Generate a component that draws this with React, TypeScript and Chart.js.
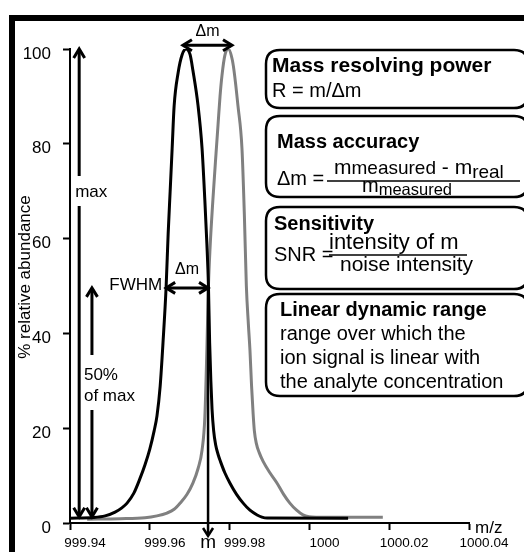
import React, { useEffect, useRef } from 'react';
import { Chart, registerables } from 'chart.js';

Chart.register(...registerables);

// ---- data ----
const xTickValues = [999.94, 999.96, 999.98, 1000, 1000.02, 1000.04];
const xTickLabels = ['999.94', '999.96', '999.98', '1000', '1000.02', '1000.04'];
const yTickValues = [0, 20, 40, 60, 80, 100];

const blackX = [999.94, 999.9458, 999.9488, 999.9513, 999.953, 999.9543, 999.956, 999.9575, 999.9588, 999.96, 999.9611, 999.9618, 999.9626, 999.9633, 999.9641, 999.9646, 999.9651, 999.9656, 999.9661, 999.9671, 999.9681, 999.9691, 999.9701, 999.9708, 999.9721, 999.9731, 999.9738, 999.9743, 999.9747, 999.975, 999.9753, 999.9756, 999.976, 999.9765, 999.9771, 999.9777, 999.9788, 999.9801, 999.9817, 999.9834, 999.9851, 999.9869, 999.9881, 999.9894, 1000.0097];
const blackY = [1.0, 1.15, 1.5, 2.3, 3.2, 4.2, 6.3, 9.3, 12.3, 15.6, 19.5, 22.6, 28.9, 37.9, 50, 61, 70, 79, 88, 95, 98.8, 100, 98.8, 95.5, 88, 79, 68, 59, 50, 38, 30, 24, 19.5, 16.5, 14.5, 13.0, 10.6, 8.4, 6.1, 4.2, 2.7, 1.7, 1.25, 1.05, 1.0];

const grayX = [999.9443, 999.9525, 999.9588, 999.9618, 999.9643, 999.9661, 999.9676, 999.9693, 999.9708, 999.9721, 999.9731, 999.9738, 999.9743, 999.9747, 999.9751, 999.9758, 999.9766, 999.9771, 999.9776, 999.9781, 999.9788, 999.9797, 999.9806, 999.9811, 999.9821, 999.9831, 999.9837, 999.9842, 999.9847, 999.9851, 999.9855, 999.9859, 999.9862, 999.9867, 999.9874, 999.9884, 999.9901, 999.9919, 999.9935, 999.9951, 999.9968, 999.9984, 999.9999, 1000.0017, 1000.0184];
const grayY = [0.8, 0.9, 1.1, 1.5, 2.1, 2.9, 4.2, 6.0, 8.4, 11.5, 15.4, 22.4, 36.5, 50, 58, 68, 78, 84, 90, 94.5, 98.6, 100, 98, 95.5, 88, 79, 65, 50, 42, 36.5, 29, 23, 19.5, 16.8, 14.9, 13.0, 10.6, 8.4, 6.1, 4.2, 2.7, 1.7, 1.3, 1.2, 1.2];

const yTitle = '% relative abundance';
const xUnit = 'm/z';

const FONT = '"Liberation Sans", Arial, sans-serif';

function chevron(ctx: CanvasRenderingContext2D, x: number, y: number, dx: number, dy: number, len = 9, half = 5.5) {
  const bx = x - dx * len, by = y - dy * len;
  const px = -dy, py = dx;
  ctx.beginPath();
  ctx.moveTo(bx + px * half, by + py * half);
  ctx.lineTo(x, y);
  ctx.lineTo(bx - px * half, by - py * half);
  ctx.stroke();
}

function seg(ctx: CanvasRenderingContext2D, x1: number, y1: number, x2: number, y2: number) {
  ctx.beginPath();
  ctx.moveTo(x1, y1);
  ctx.lineTo(x2, y2);
  ctx.stroke();
}

function roundBox(ctx: CanvasRenderingContext2D, x: number, y: number, w: number, h: number, r: number) {
  ctx.beginPath();
  ctx.moveTo(x + r, y);
  ctx.lineTo(x + w - r, y);
  ctx.quadraticCurveTo(x + w, y, x + w, y + r);
  ctx.lineTo(x + w, y + h - r);
  ctx.quadraticCurveTo(x + w, y + h, x + w - r, y + h);
  ctx.lineTo(x + r, y + h);
  ctx.quadraticCurveTo(x, y + h, x, y + h - r);
  ctx.lineTo(x, y + r);
  ctx.quadraticCurveTo(x, y, x + r, y);
  ctx.stroke();
}

type Run = { t: string; size: number; dy?: number; bold?: boolean };
function drawRuns(ctx: CanvasRenderingContext2D, runs: Run[], x: number, base: number) {
  let cx = x;
  ctx.textAlign = 'left';
  ctx.textBaseline = 'alphabetic';
  for (const r of runs) {
    ctx.font = `${r.bold ? 'bold ' : ''}${r.size}px ${FONT}`;
    ctx.fillText(r.t, cx, base + (r.dy || 0));
    cx += ctx.measureText(r.t).width;
  }
  return cx;
}

const annot = {
  id: 'annot',
  afterDraw(chart: any) {
    const ctx: CanvasRenderingContext2D = chart.ctx;
    const xs = chart.scales.x;
    const ys = chart.scales.y;
    const X = (v: number) => xs.getPixelForValue(v);
    const Y = (v: number) => ys.getPixelForValue(v);
    ctx.save();
    ctx.fillStyle = '#000';
    ctx.strokeStyle = '#000';
    ctx.lineCap = 'butt';
    ctx.lineJoin = 'miter';

    // frame
    ctx.fillRect(9, 15, 6, 552);
    ctx.fillRect(9, 15, 524, 6);

    // y title
    ctx.save();
    ctx.translate(25, 277);
    ctx.rotate(-Math.PI / 2);
    ctx.font = `17px ${FONT}`;
    ctx.textAlign = 'center';
    ctx.textBaseline = 'middle';
    ctx.fillText(yTitle, 0, 0);
    ctx.restore();

    // max arrow
    ctx.lineWidth = 3;
    const mx = X(999.9423);
    seg(ctx, mx, Y(100) + 1, mx, 176);
    seg(ctx, mx, 206, mx, Y(1.3) - 1);
    chevron(ctx, mx, Y(100), 0, -1);
    chevron(ctx, mx, Y(1.3), 0, 1);
    ctx.font = `17px ${FONT}`;
    ctx.textAlign = 'left';
    ctx.textBaseline = 'middle';
    ctx.fillText('max', mx - 4, 192);

    // 50% arrow
    const hx = X(999.9455);
    seg(ctx, hx, Y(49.6) + 1, hx, 355);
    seg(ctx, hx, 410, hx, Y(1.3) - 1);
    chevron(ctx, hx, Y(49.6), 0, -1);
    chevron(ctx, hx, Y(1.3), 0, 1);
    ctx.fillText('50%', hx - 8, 375);
    ctx.fillText('of max', hx - 8, 396);

    // FWHM arrow
    const fy = Y(49.6);
    const fx1 = X(999.9641), fx2 = X(999.9746);
    seg(ctx, fx1 + 1, fy, fx2 - 1, fy);
    chevron(ctx, fx1, fy, -1, 0);
    chevron(ctx, fx2, fy, 1, 0);
    ctx.textAlign = 'right';
    ctx.fillText('FWHM', fx1 - 4, fy - 3);
    ctx.textAlign = 'center';
    ctx.font = `16px ${FONT}`;
    ctx.fillText('\u0394m', (fx1 + fx2) / 2, fy - 18);

    // m vertical arrow
    ctx.lineWidth = 2.5;
    seg(ctx, fx2, fy, fx2, 535);
    chevron(ctx, fx2, 536, 0, 1, 8, 5);
    ctx.font = `19px ${FONT}`;
    ctx.textAlign = 'center';
    ctx.textBaseline = 'alphabetic';
    ctx.fillText('m', fx2, 548);

    // top delta m arrow
    ctx.lineWidth = 3;
    const ty = Y(100.8);
    const tx1 = X(999.9683), tx2 = X(999.9806);
    seg(ctx, tx1 + 1, ty, tx2 - 1, ty);
    chevron(ctx, tx1, ty, -1, 0);
    chevron(ctx, tx2, ty, 1, 0);
    ctx.font = `16px ${FONT}`;
    ctx.textAlign = 'center';
    ctx.textBaseline = 'middle';
    ctx.fillText('\u0394m', (tx1 + tx2) / 2, 32);

    // m/z
    ctx.font = `17px ${FONT}`;
    ctx.textAlign = 'left';
    ctx.fillText(xUnit, 475, 528);

    // boxes
    ctx.lineWidth = 2.5;
    roundBox(ctx, 266, 50, 262, 58, 14);
    roundBox(ctx, 266, 116, 262, 81, 14);
    roundBox(ctx, 266, 207, 262, 82, 14);
    roundBox(ctx, 266, 294, 262, 102, 14);

    // box 1
    drawRuns(ctx, [{ t: 'Mass resolving power', size: 21, bold: true }], 272, 72);
    drawRuns(ctx, [{ t: 'R = m/\u0394m', size: 20 }], 272, 97);

    // box 2
    drawRuns(ctx, [{ t: 'Mass accuracy', size: 20, bold: true }], 277, 148);
    drawRuns(ctx, [{ t: '\u0394m =', size: 20 }], 277, 185);
    drawRuns(ctx, [
      { t: 'm', size: 21 }, { t: 'measured', size: 19 }, { t: ' - ', size: 21 },
      { t: 'm', size: 21 }, { t: 'real', size: 19, dy: 4 },
    ], 334, 174);
    ctx.lineWidth = 1.5;
    seg(ctx, 327, 181, 520, 181);
    drawRuns(ctx, [{ t: 'm', size: 20 }, { t: 'measured', size: 16.5, dy: 3 }], 362, 192);

    // box 3
    drawRuns(ctx, [{ t: 'Sensitivity', size: 20, bold: true }], 274, 230);
    drawRuns(ctx, [{ t: 'SNR =', size: 20 }], 274, 261);
    drawRuns(ctx, [{ t: 'intensity of m', size: 22 }], 329, 249);
    seg(ctx, 329, 255, 467, 255);
    drawRuns(ctx, [{ t: 'noise intensity', size: 21 }], 340, 271);

    // box 4
    drawRuns(ctx, [{ t: 'Linear dynamic range', size: 20, bold: true }], 280, 316);
    drawRuns(ctx, [{ t: 'range over which the', size: 20 }], 280, 340);
    drawRuns(ctx, [{ t: 'ion signal is linear with', size: 20 }], 280, 364);
    drawRuns(ctx, [{ t: 'the analyte concentration', size: 20 }], 280, 388);

    ctx.restore();
  },
};

export default function App() {
  const ref = useRef<HTMLCanvasElement>(null);
  useEffect(() => {
    if (!ref.current) return;
    const chart = new Chart(ref.current, {
      type: 'line',
      data: {
        datasets: [
          {
            data: blackX.map((x, i) => ({ x, y: blackY[i] })),
            borderColor: '#000000',
            borderWidth: 3,
            pointRadius: 0,
            cubicInterpolationMode: 'monotone',
            fill: false,
          },
          {
            data: grayX.map((x, i) => ({ x, y: grayY[i] })),
            borderColor: '#808080',
            borderWidth: 3,
            pointRadius: 0,
            cubicInterpolationMode: 'monotone',
            fill: false,
          },
        ],
      },
      options: {
        animation: false,
        responsive: false,
        events: [],
        layout: { padding: { top: 49, right: 55, bottom: 0, left: 0 } },
        plugins: { legend: { display: false }, tooltip: { enabled: false } },
        scales: {
          x: {
            type: 'linear',
            min: 999.94,
            max: 1000.04,
            afterBuildTicks: (s: any) => { s.ticks = xTickValues.map((v) => ({ value: v })); },
            afterFit: (s: any) => { s.height = 29; },
            ticks: {
              color: '#000',
              font: { family: FONT, size: 13.5 },
              padding: 5,
              labelOffset: 15,
              maxRotation: 0,
              autoSkip: false,
              callback: (_v: any, i: number) => xTickLabels[i],
            },
            grid: { drawOnChartArea: false, drawTicks: true, tickLength: 7, tickWidth: 2, tickColor: '#000', color: '#000' },
            border: { display: true, color: '#000', width: 2 },
          },
          y: {
            type: 'linear',
            min: 0,
            max: 100,
            afterBuildTicks: (s: any) => { s.ticks = yTickValues.map((v) => ({ value: v })); },
            afterFit: (s: any) => { s.width = 70; },
            ticks: {
              color: '#000',
              font: { family: '"Liberation Sans Narrow", "Arial Narrow", ' + FONT, size: 17 },
              padding: 12,
              labelOffset: 5,
              callback: (v: any) => String(v),
            },
            grid: { drawOnChartArea: false, drawTicks: true, tickLength: 7, tickWidth: 2, tickColor: '#000', color: '#000' },
            border: { display: true, color: '#000', width: 2 },
          },
        },
      },
      plugins: [annot],
    });
    return () => chart.destroy();
  }, []);
  return (
    <div style={{ position: 'fixed', left: 0, top: 0, width: 524, height: 552, background: '#fff' }}>
      <canvas ref={ref} width={524} height={552} style={{ width: 524, height: 552, display: 'block' }} />
    </div>
  );
}
